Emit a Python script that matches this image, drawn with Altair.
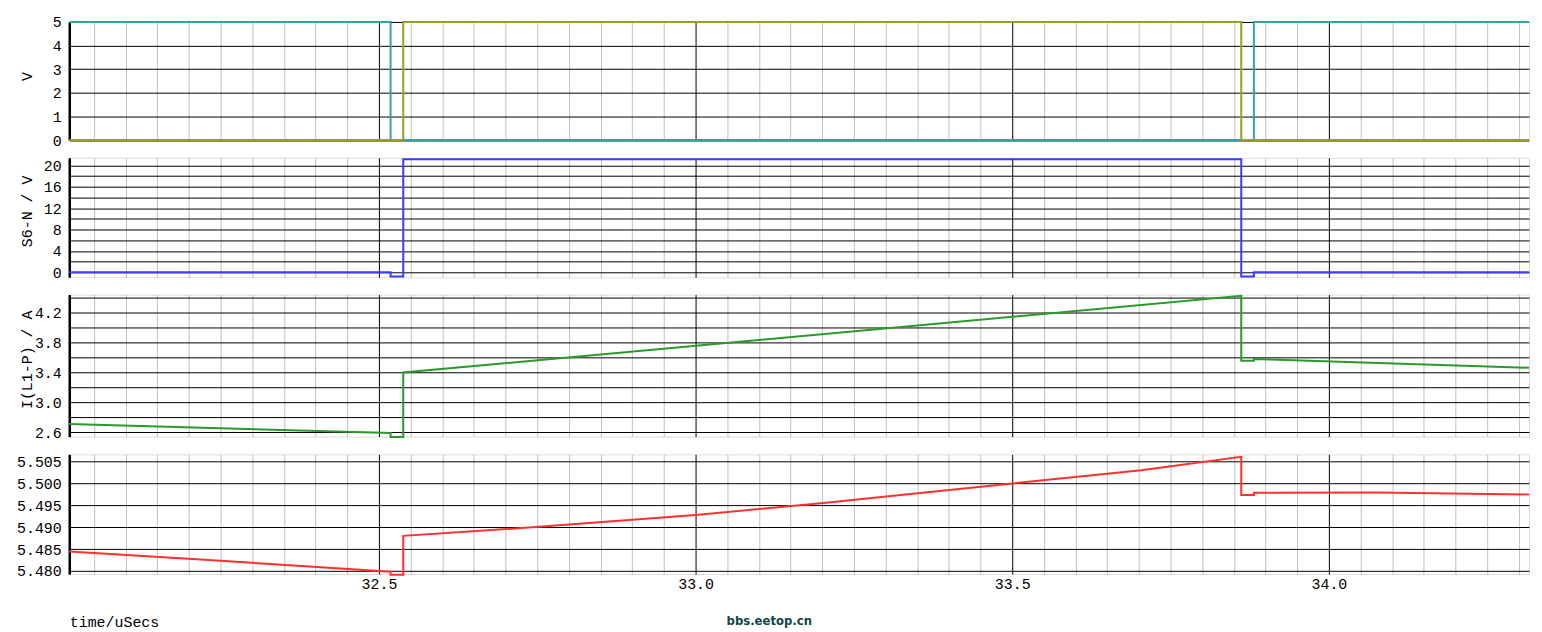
import altair as alt
import pandas as pd

# ---- data (time in uSecs) ----
t_teal = [32.011, 32.5184, 32.5184, 33.8816, 33.8816, 34.316]
v_teal = [5, 5, 0, 0, 5, 5]

t_olive = [32.011, 32.5384, 32.5384, 33.8616, 33.8616, 34.316]
v_olive = [0, 0, 5, 5, 0, 0]

t_blue = [32.011, 32.5184, 32.5184, 32.5384, 32.5384, 33.8616, 33.8616, 33.8816, 33.8816, 34.316]
v_blue = [0, 0, -0.8, -0.8, 21.15, 21.15, -0.8, -0.8, 0, 0]

t_green = [32.011, 32.5184, 32.5184, 32.5384, 32.5384, 33.8616, 33.8616, 33.8816, 33.8816, 34.316]
v_green = [2.711, 2.588, 2.534, 2.534, 3.40, 4.427, 3.557, 3.557, 3.58, 3.463]

t_red = [32.011, 32.2186, 32.5184, 32.5184, 32.5384, 32.5384, 32.7475, 33.0, 33.1981,
         33.5, 33.7036, 33.8616, 33.8616, 33.8816, 33.8816, 34.0739, 34.316]
v_red = [5.48444, 5.48262, 5.47984, 5.47916, 5.47916, 5.4880, 5.4900, 5.49276, 5.49541,
         5.49994, 5.50296, 5.5060, 5.49729, 5.49729, 5.49781, 5.49787, 5.49743]

series_names = ["teal", "olive", "blue", "green", "red"]
series_colors = ["#36a3a3", "#9c9c2a", "#3b3bff", "#2b992b", "#ff3030"]

y1_ticks = [0, 1, 2, 3, 4, 5]
y2_ticks = [0, 2, 4, 6, 8, 10, 12, 14, 16, 18, 20]
y3_ticks = [2.6, 2.8, 3.0, 3.2, 3.4, 3.6, 3.8, 4.0, 4.2, 4.4]
y4_ticks = [5.480, 5.485, 5.490, 5.495, 5.500, 5.505]

titles = ["V", "S6-N / V", "I(L1-P) / A"]
x_title = "time/uSecs"
watermark = "bbs.eetop.cn"


def frame(ts, vs, name):
    return pd.DataFrame({"t": ts, "v": vs, "s": name, "i": list(range(len(ts)))})


FONT = "Liberation Mono"
W = 1466
X_DOMAIN = [32.011, 34.316]
x_grid_values = [round(32.05 + 0.05 * k, 2) for k in range(46)]
major_test = "abs(datum.value*2 - round(datum.value*2)) < 1e-6"
grid_color = {"condition": {"test": major_test, "value": "#000000"}, "value": "#c0c0c0"}


def x_enc(bottom):
    if bottom:
        axis = alt.Axis(values=x_grid_values, grid=True, gridColor=grid_color, gridWidth=1,
                        domain=False, ticks=False, labelOverlap=False, labelFlush=False,
                        labelExpr=f"{major_test} ? format(datum.value, '.1f') : ''",
                        labelPadding=3, labelFont=FONT, labelFontSize=15, labelColor="black",
                        title=x_title, titleX=0, titleY=47.5, titleAlign="left",
                        titleBaseline="middle", titleAngle=0, titleFont=FONT, titleFontSize=15,
                        titleFontWeight="normal", titleColor="black")
    else:
        axis = alt.Axis(values=x_grid_values, grid=True, gridColor=grid_color, gridWidth=1,
                        domain=False, ticks=False, labels=False, title=None)
    return alt.X("t:Q", scale=alt.Scale(domain=X_DOMAIN, nice=False, zero=False), axis=axis)


def y_enc(domain, values, title, title_y, label_expr):
    kw = dict(values=values, grid=True, gridColor="black", gridWidth=1,
              domain=True, domainColor="black", domainWidth=2.5, ticks=False,
              labelPadding=8, labelFont=FONT, labelFontSize=15, labelColor="black",
              labelOverlap=False, labelFlush=False, labelExpr=label_expr)
    if title is not None:
        kw.update(titleX=-43, titleY=title_y, titleAngle=270, titleAlign="center",
                  titleBaseline="middle", titleFont=FONT, titleFontSize=15,
                  titleFontWeight="normal", titleColor="black")
    return alt.Y("v:Q", scale=alt.Scale(domain=domain, nice=False, zero=False),
                 axis=alt.Axis(**kw), title=title)


def panel(df, domain, values, title, title_y, label_expr, height, bottom=False):
    return alt.Chart(df).mark_line(strokeWidth=2, interpolate="linear").encode(
        x=x_enc(bottom),
        y=y_enc(domain, values, title, title_y, label_expr),
        color=alt.Color("s:N", scale=alt.Scale(domain=series_names, range=series_colors), legend=None),
        detail="s:N",
        order=alt.Order("i:Q"),
    ).properties(width=W, height=height)


df1 = pd.concat([frame(t_teal, v_teal, "teal"), frame(t_olive, v_olive, "olive")])
p1 = panel(df1, [0, 5], y1_ticks, titles[0], 54.3, "format(datum.value, 'd')", 118.6)

p2 = panel(frame(t_blue, v_blue, "blue"), [-0.93, 21.415], y2_ticks,
           titles[1], 53.3, "datum.value % 4 == 0 ? format(datum.value, 'd') : ''", 120)

p3 = panel(frame(t_green, v_green, "green"), [2.541, 4.443], y3_ticks,
           titles[2], 65, "round((datum.value - 2.6) / 0.2) % 2 == 0 ? format(datum.value, '.1f') : ''",
           142.6)

p4_lines = panel(frame(t_red, v_red, "red"), [5.47932, 5.50656], y4_ticks,
                 None, 0, "format(datum.value, '.3f')", 120.2, bottom=True)

wm = alt.Chart(pd.DataFrame({"w": [watermark]})).mark_text(
    font="DejaVu Sans Condensed, DejaVu Sans, sans-serif", fontWeight="bold", fontSize=13,
    color="#134444", align="center", baseline="middle"
).encode(text="w:N", x=alt.value(703), y=alt.value(167.5))

p4 = alt.layer(p4_lines, wm).properties(width=W, height=120.2)

chart = alt.vconcat(p1, p2, p3, p4, spacing=17.4, bounds="flush").properties(
    padding={"left": 7.5, "top": 4.7, "right": 0, "bottom": 0}
).configure_view(stroke=None).configure(background="white")

chart.save("out.html", embed_options={"renderer": "svg", "actions": False})
